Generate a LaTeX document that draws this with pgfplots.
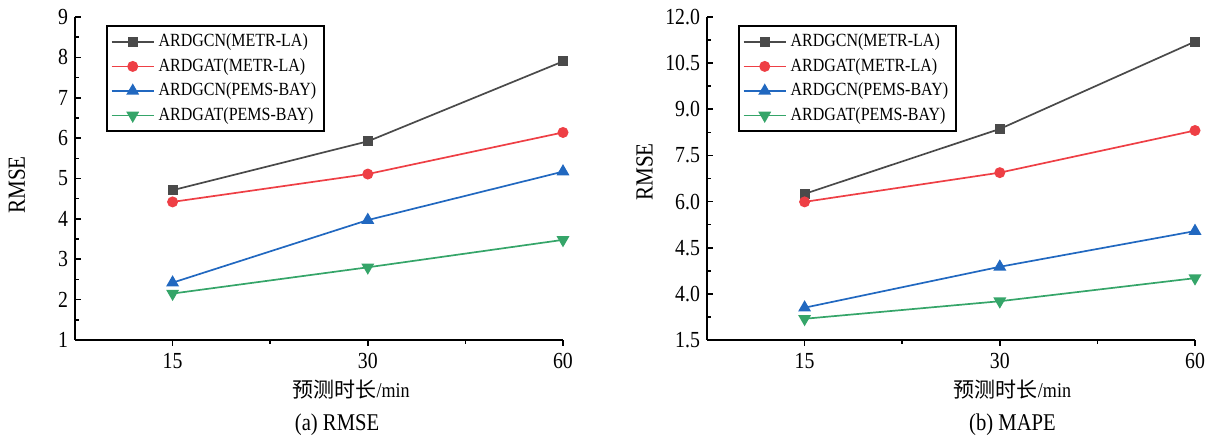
\documentclass[border=0pt]{standalone}
\usepackage{fontspec}
\setmainfont{Liberation Serif}[FakeStretch=0.86]
\newfontfamily\cjk{Noto Sans CJK SC}
\usepackage{pgfplots}
\pgfplotsset{compat=1.18}

\definecolor{sgray}{HTML}{4A4A4A}
\definecolor{sred}{HTML}{EE3F45}
\definecolor{sblue}{HTML}{2168C0}
\definecolor{sgreen}{HTML}{35A569}

\pgfplotsset{
  panel/.style={
    scale only axis,
    width=244pt, height=161.5pt,
    clip=false,
    axis lines*=left,
    axis line style={black, line width=0.9pt},
    xmin=-0.5, xmax=2,
    xtick={0,1,2}, xticklabels={15,30,60},
    minor x tick num=1, minor y tick num=1,
    tick style={black, line width=0.8pt},
    major tick length=3pt, minor tick length=2pt,
    xtick align=outside, ytick align=inside,
    /pgf/number format/assume math mode=true,
    tick label style={font=\fontsize{11.5}{13}\selectfont},
    label style={font=\fontsize{10.5}{12}\selectfont},
    legend style={at={(0.0635,0.975)}, anchor=north west,
      draw=black, line width=0.9pt, fill=white,
      font=\fontsize{9.3}{11}\selectfont,
      row sep=0.3pt, inner sep=2pt,
      cells={anchor=west}},
    legend image code/.code={
      \draw[mark repeat=2, mark phase=2]
        plot coordinates {(0pt,0pt) (10.5pt,0pt) (21pt,0pt)};},
    every axis plot/.append style={line width=0.85pt},
  },
  s1/.style={sgray, mark=square*, mark size=2.1pt},
  s2/.style={sred, mark=*, mark size=2.3pt},
  s3/.style={sblue, mark=triangle*, mark size=2.9pt},
  s4/.style={sgreen, mark=triangle*, mark size=2.9pt, every mark/.append style={rotate=180}},
}

\begin{document}
\begin{tikzpicture}
\useasboundingbox (-37.5pt,-48.5pt) rectangle (571pt,170pt);

% (a) RMSE
\begin{axis}[panel, at={(0pt,0pt)}, anchor=south west,
  ymin=1, ymax=9, ytick={1,2,...,9},
  xlabel={{\cjk 预测时长}/min},
  ylabel={RMSE},
  xlabel style={at={(axis description cs:0.566,-0.152)}, anchor=center},
  ylabel style={at={(axis description cs:-0.119,0.48)}, anchor=center,
    font=\fontsize{12.3}{14}\selectfont},
]
\addplot[s1] coordinates {(0,4.71) (1,5.92) (2,7.90)};
\addplot[s2] coordinates {(0,4.42) (1,5.11) (2,6.14)};
\addplot[s3] coordinates {(0,2.42) (1,3.97) (2,5.17)};
\addplot[s4] coordinates {(0,2.15) (1,2.80) (2,3.48)};
\legend{ARDGCN(METR-LA), ARDGAT(METR-LA), ARDGCN(PEMS-BAY), ARDGAT(PEMS-BAY)}
\node[font=\fontsize{12}{14}\selectfont] at (axis description cs:0.537,-0.263) {(a) RMSE};
\end{axis}

% (b) MAPE
\begin{axis}[panel, at={(316pt,0pt)}, anchor=south west,
  ymin=1.5, ymax=12, ytick={1.5,3,4.5,6,7.5,9,10.5,12},
  yticklabels={1.5,4.0,4.5,6.0,7.5,9.0,10.5,12.0},
  xlabel={{\cjk 预测时长}/min},
  ylabel={RMSE},
  xlabel style={at={(axis description cs:0.626,-0.152)}, anchor=center},
  ylabel style={at={(axis description cs:-0.128,0.52)}, anchor=center,
    font=\fontsize{12.3}{14}\selectfont},
]
\addplot[s1] coordinates {(0,6.25) (1,8.36) (2,11.20)};
\addplot[s2] coordinates {(0,5.99) (1,6.94) (2,8.31)};
\addplot[s3] coordinates {(0,2.55) (1,3.88) (2,5.04)};
\addplot[s4] coordinates {(0,2.19) (1,2.76) (2,3.51)};
\legend{ARDGCN(METR-LA), ARDGAT(METR-LA), ARDGCN(PEMS-BAY), ARDGAT(PEMS-BAY)}
\node[font=\fontsize{12}{14}\selectfont] at (axis description cs:0.626,-0.263) {(b) MAPE};
\end{axis}
\end{tikzpicture}
\end{document}
